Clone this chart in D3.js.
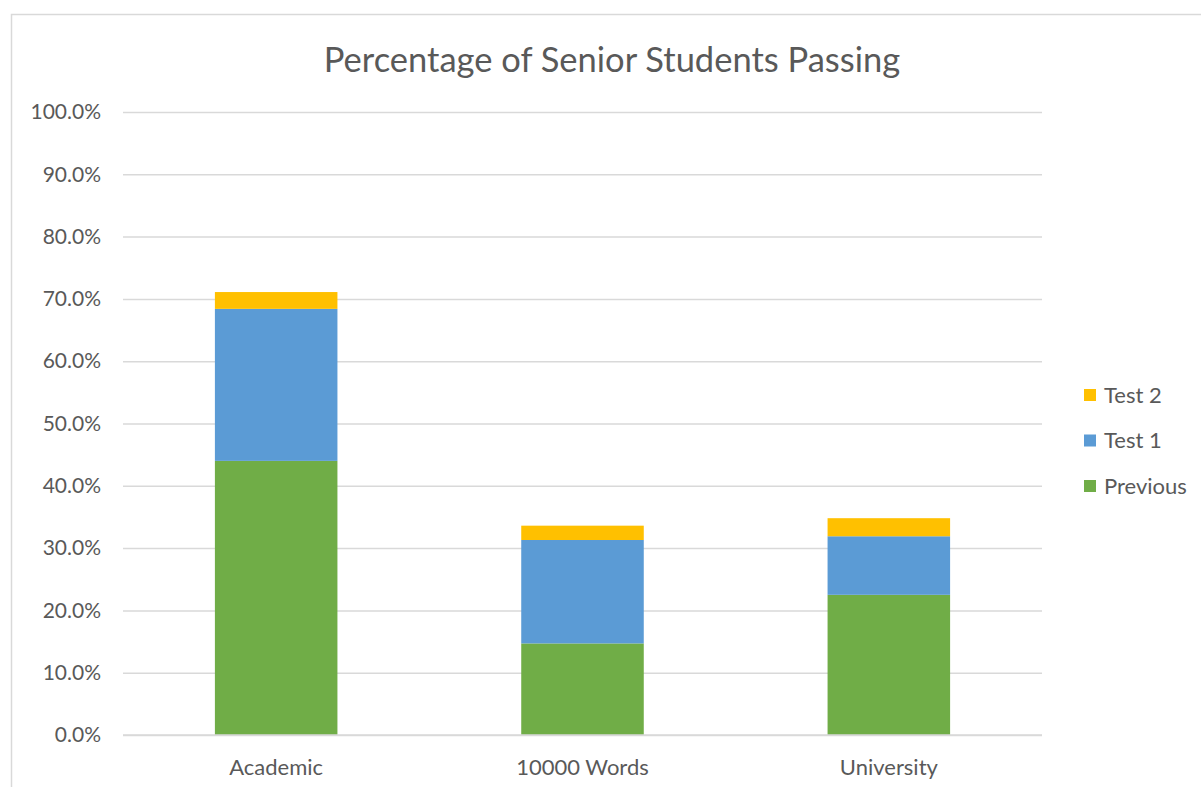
<!DOCTYPE html>
<html>
<head>
<meta charset="utf-8">
<script src="https://cdn.jsdelivr.net/npm/d3@7"></script>
<style>
  html, body { margin: 0; padding: 0; background: #fff; }
  svg { display: block; }
  text { font-family: Lato, "Open Sans", sans-serif; fill: #595959; }
</style>
</head>
<body>
<svg id="chart" width="1201" height="787"></svg>
<script>
// Chart data
const categories = ["Academic", "10000 Words", "University"];
const seriesNames = ["Previous", "Test 1", "Test 2"];
const previous = [0.440, 0.147, 0.225];
const test1    = [0.244, 0.166, 0.094];
const test2    = [0.027, 0.023, 0.029];
const yTicks   = [0, 0.1, 0.2, 0.3, 0.4, 0.5, 0.6, 0.7, 0.8, 0.9, 1.0];
const colors   = ["#70AD47", "#5B9BD5", "#FFC000"];
const titleText = "Percentage of Senior Students Passing";

const svg = d3.select("#chart");
const plot = { left: 123, right: 1042, top: 112, bottom: 735 };

// Outer chart frame
svg.append("rect")
  .attr("x", 11.5).attr("y", 14.5)
  .attr("width", 1200).attr("height", 800)
  .attr("fill", "#fff").attr("stroke", "#D9D9D9").attr("stroke-width", 1.5);

const x = d3.scaleBand().domain(categories)
  .range([plot.left, plot.right]).paddingInner(0.6).paddingOuter(0.3);
const y = d3.scaleLinear().domain([0, 1]).range([plot.bottom, plot.top]);

// Gridlines and y labels
const yAxis = d3.axisLeft(y).tickValues(yTicks)
  .tickSize(-(plot.right - plot.left))
  .tickPadding(22)
  .tickFormat(d3.format(".1%"));
const gy = svg.append("g").attr("transform", `translate(${plot.left},0)`).call(yAxis);
gy.select(".domain").remove();
gy.selectAll(".tick line").attr("stroke", "#D9D9D9").attr("stroke-width", 1.5);
gy.selectAll(".tick text")
  .attr("font-size", 21).style("font-family", "Lato, sans-serif").attr("fill", "#595959");

// Stacked bars
const rows = categories.map((c, i) => ({ cat: c, "Previous": previous[i], "Test 1": test1[i], "Test 2": test2[i] }));
const stack = d3.stack().keys(seriesNames)(rows);
svg.append("g").selectAll("g").data(stack).join("g")
  .attr("fill", (d, i) => colors[i])
  .selectAll("rect").data(d => d).join("rect")
  .attr("x", d => x(d.data.cat))
  .attr("width", x.bandwidth())
  .attr("y", d => y(d[1]))
  .attr("height", d => y(d[0]) - y(d[1]));

// Category axis
const xAxis = d3.axisBottom(x).tickSize(0).tickPadding(24);
const gx = svg.append("g").attr("transform", `translate(0,${plot.bottom})`).call(xAxis);
gx.select(".domain").attr("stroke", "#D9D9D9").attr("stroke-width", 1.5)
  .attr("d", `M${plot.left},0H${plot.right}`);
gx.selectAll(".tick text")
  .attr("font-size", 22).style("font-family", "Lato, sans-serif").attr("fill", "#595959");

// Title
svg.append("text")
  .attr("x", 612).attr("y", 72)
  .attr("text-anchor", "middle")
  .attr("font-size", 34.5)
  .text(titleText);

// Legend (Test 2 on top)
const legend = svg.append("g");
const order = [2, 1, 0];
order.forEach((si, k) => {
  const cy = 395 + k * 45.5;
  legend.append("rect")
    .attr("x", 1084).attr("y", cy - 6)
    .attr("width", 12).attr("height", 12)
    .attr("fill", colors[si]);
  legend.append("text")
    .attr("x", 1104).attr("y", cy)
    .attr("dy", "0.35em")
    .attr("font-size", 22)
    .text(seriesNames[si]);
});
</script>
</body>
</html>
